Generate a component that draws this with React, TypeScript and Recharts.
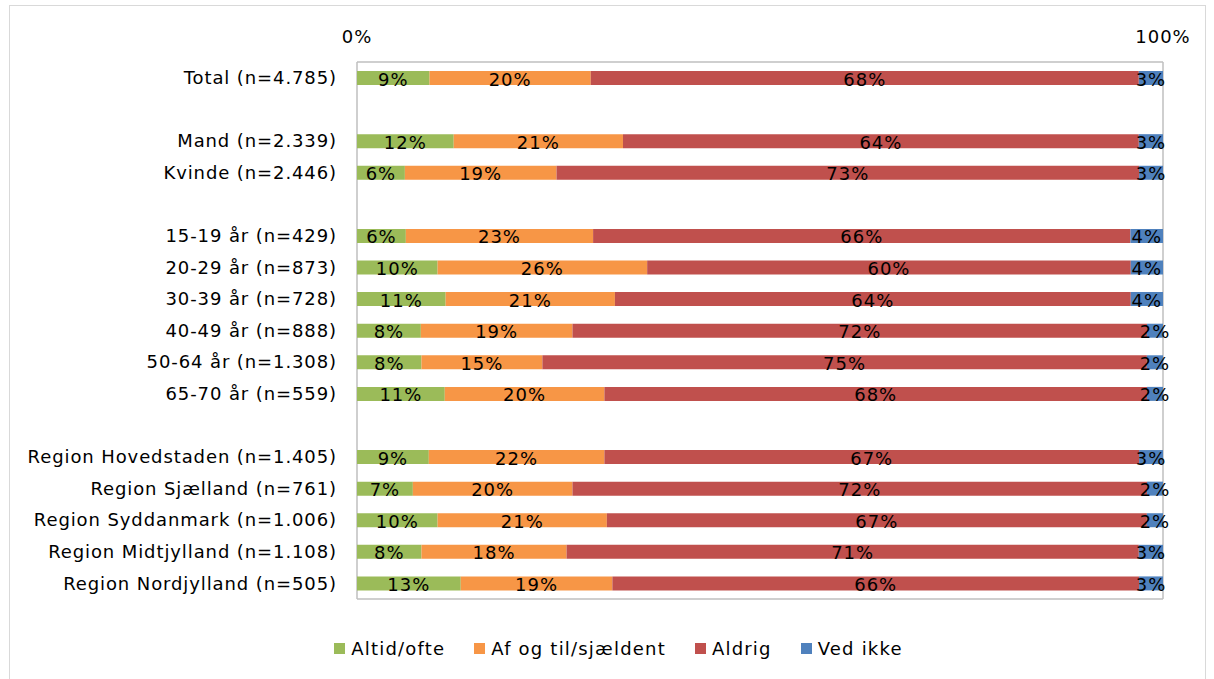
import { BarChart, Bar, XAxis, YAxis, CartesianGrid, Legend, LabelList } from 'recharts';

// Categories (blank strings are the spacer rows between groups)
const categories = [
  'Total (n=4.785)',
  '',
  'Mand (n=2.339)',
  'Kvinde (n=2.446)',
  ' ',
  '15-19 år (n=429)',
  '20-29 år (n=873)',
  '30-39 år (n=728)',
  '40-49 år (n=888)',
  '50-64 år (n=1.308)',
  '65-70 år (n=559)',
  '  ',
  'Region Hovedstaden (n=1.405)',
  'Region Sjælland (n=761)',
  'Region Syddanmark (n=1.006)',
  'Region Midtjylland (n=1.108)',
  'Region Nordjylland (n=505)',
];

const altid = [9, null, 12, 6, null, 6, 10, 11, 8, 8, 11, null, 9, 7, 10, 8, 13];
const afOgTil = [20, null, 21, 19, null, 23, 26, 21, 19, 15, 20, null, 22, 20, 21, 18, 19];
const aldrig = [68, null, 64, 73, null, 66, 60, 64, 72, 75, 68, null, 67, 72, 67, 71, 66];
const vedIkke = [3, null, 3, 3, null, 4, 4, 4, 2, 2, 2, null, 3, 2, 2, 3, 3];

const xTicks = [0, 1];

const series = [
  { key: 'altid', name: 'Altid/ofte', color: '#9BBB59', values: altid },
  { key: 'afOgTil', name: 'Af og til/sjældent', color: '#F79646', values: afOgTil },
  { key: 'aldrig', name: 'Aldrig', color: '#C0504D', values: aldrig },
  { key: 'vedIkke', name: 'Ved ikke', color: '#4F81BD', values: vedIkke },
];

const data = categories.map((name, i) => {
  const row: any = { name };
  series.forEach((s) => {
    row[s.key] = s.values[i] ?? 0;
  });
  return row;
});

const FONT = '"DejaVu Sans", sans-serif';

// spacer rows get no label entry, so index into the non-empty values only
const makeLabel = (values: (number | null)[]) => {
  const present = values.filter((v) => v != null) as number[];
  return (props: any) => {
    const v = present[props.index];
    if (v == null) return null;
    const vb = props.viewBox ?? props;
    return (
      <text
        x={vb.x + vb.width / 2}
        y={vb.y + vb.height / 2 + 1}
        textAnchor="middle"
        dominantBaseline="central"
        fontSize={18}
        fontFamily={FONT}
        style={{ letterSpacing: 1 }}
        fill="#000"
      >
        {v}%
      </text>
    );
  };
};

const LegendContent = () => (
  <div
    style={{
      display: 'flex',
      justifyContent: 'center',
      gap: 29,
      paddingLeft: 74,
      fontFamily: FONT,
      fontSize: 18,
      letterSpacing: 1.2,
      color: '#000',
      height: 24,
      alignItems: 'center',
    }}
  >
    {series.map((s) => (
      <div key={s.key} style={{ display: 'flex', alignItems: 'center', gap: 6 }}>
        <span style={{ width: 11, height: 11, background: s.color, display: 'inline-block' }} />
        <span>{s.name}</span>
      </div>
    ))}
  </div>
);

export default function App() {
  return (
    <div style={{ position: 'absolute', left: 0, top: 0, width: 1214, height: 679 }}>
      <div
        style={{
          position: 'absolute',
          left: 9,
          top: 5,
          width: 1197,
          height: 680,
          border: '1px solid #d9d9d9',
          boxSizing: 'border-box',
        }}
      />
      <BarChart
        width={1214}
        height={679}
        data={data}
        layout="vertical"
        stackOffset="expand"
        barSize={14}
        margin={{ top: 0, right: 51, bottom: 19, left: 0 }}
      >
        <CartesianGrid horizontal={false} stroke="#bfbfbf" strokeWidth={1.5} />
        <XAxis
          type="number"
          xAxisId="top"
          orientation="top"
          domain={[0, 1]}
          ticks={xTicks}
          tickFormatter={(v) => `${v * 100}%`}
          height={62}
          tickLine={false}
          tickSize={0}
          tickMargin={19}
          axisLine={{ stroke: '#bfbfbf', strokeWidth: 1.5 }}
          tick={{ fill: '#000', fontSize: 18, fontFamily: FONT, style: { letterSpacing: 1 } }}
        />
        <XAxis
          type="number"
          xAxisId="bottom"
          orientation="bottom"
          domain={[0, 1]}
          ticks={xTicks}
          height={37}
          tick={false}
          tickLine={false}
          axisLine={{ stroke: '#bfbfbf', strokeWidth: 1.5 }}
        />
        <YAxis
          type="category"
          dataKey="name"
          width={357}
          tickLine={false}
          axisLine={false}
          tickSize={0}
          tickMargin={20}
          interval={0}
          tick={{ fill: '#000', fontSize: 18, fontFamily: FONT, style: { letterSpacing: 0.9 } }}
        />
        <Legend verticalAlign="bottom" content={<LegendContent />} />
        {series.map((s) => (
          <Bar
            key={s.key}
            dataKey={s.key}
            name={s.name}
            stackId="a"
            xAxisId="top"
            fill={s.color}
            isAnimationActive={false}
          >
            <LabelList dataKey={s.key} content={makeLabel(s.values)} />
          </Bar>
        ))}
      </BarChart>
    </div>
  );
}
